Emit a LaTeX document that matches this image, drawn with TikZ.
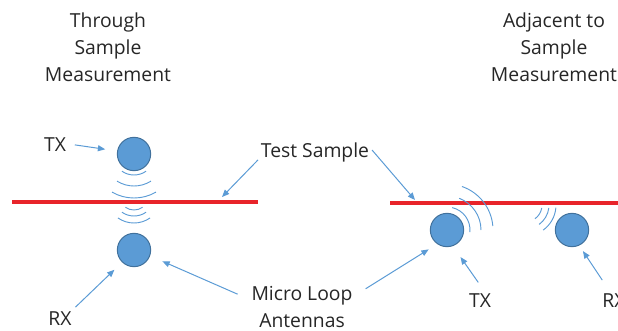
\documentclass[tikz,border=0pt]{standalone}
\usepackage{fontspec}
\setmainfont{Open Sans}
\usepackage{tikz}
\usetikzlibrary{arrows.meta, positioning, calc}

\definecolor{antblue}{HTML}{5B9BD5}
\definecolor{antedge}{HTML}{41719C}
\definecolor{samplered}{HTML}{E8242A}
\definecolor{labelgray}{HTML}{262626}

\begin{document}
\begin{tikzpicture}[
        x=0.75pt, y=0.75pt,
        font=\fontsize{14.5}{20.25}\selectfont,
        antenna/.style = {circle, draw=antedge, fill=antblue, line width=0.75pt, minimum size=25pt, inner sep=0pt},
        title_text/.style = {text=labelgray, align=center, inner sep=2pt},
        callout/.style = {text=labelgray, inner sep=2pt, text height=10.5pt, text depth=0pt},
        callout_two/.style = {text=labelgray, inner sep=2pt, align=center},
        pointer/.style = {draw=antblue, line width=0.75pt, -{Triangle[length=5.5pt, width=4.5pt]}},
        wave/.style = {draw=antblue, line width=0.7pt},
        sample/.style = {draw=samplered, line width=2.5pt}
    ]
    \useasboundingbox (0,0) rectangle (618,330);
    
    % Titles
    \node [title_text] (title_through) at (108,283) {Through\\Sample\\Measurement};
    \node [title_text] (title_adjacent) at (554,283) {Adjacent to\\Sample\\Measurement};
    
    % Test samples
    \draw [sample] (12,128) -- (258,128);
    \draw [sample] (390,127) -- (620,127);
    
    % Antennas
    \node [antenna] (tx_a) at (134,176) {};
    \node [antenna] (rx_a) at (134,80) {};
    \node [antenna] (tx_b) at (447,100) {};
    \node [antenna] (rx_b) at (572,100) {};
    
    % Waves
    \foreach \r/\a/\b in {21/235/305, 32/238/302, 44/240/300}
        \draw [wave] (tx_a.center) ++(\a:\r) arc[start angle=\a, end angle=\b, radius=\r];
    \foreach \r in {15, 21, 28}
        \draw [wave] (134,135) ++(235:\r) arc[start angle=235, end angle=305, radius=\r];
    \foreach \r/\a/\b in {23/-5/77, 34/0/69, 46/5/71}
        \draw [wave] (tx_b.center) ++(\a:\r) arc[start angle=\a, end angle=\b, radius=\r];
    \foreach \r/\b in {17/-10, 24/-7, 31/-5}
        \draw [wave] (525,125) ++(-54:\r) arc[start angle=-54, end angle=\b, radius=\r];
    
    % Labels
    \node [callout] (tx_a_lbl) at (55,186) {TX};
    \node [callout] (rx_a_lbl) at (60,12) {RX};
    \node [callout] (test_lbl) at (315,180) {Test Sample};
    \node [callout_two] (loop_lbl) at (302,23.5) {Micro Loop\\Antennas};
    \node [callout] (tx_b_lbl) at (480,30) {TX};
    \node [callout] (rx_b_lbl) at (614,30) {RX};
    
    \coordinate (hit_a) at (222,133);
    \coordinate (hit_b) at (415,130);
    
    % Edges
    \path [pointer, shorten <=4.5pt, shorten >=9pt] (tx_a_lbl.east) -- (tx_a.170);
    \path [pointer, shorten <=1pt, shorten >=8pt] (rx_a_lbl.north east) -- (rx_a.226);
    \path [pointer] (test_lbl.south west) -- (hit_a);
    \path [pointer] (test_lbl.east) -- (hit_b);
    \path [pointer, shorten <=9pt, shorten >=10pt] (loop_lbl.172) -- (rx_a.-20);
    \path [pointer, shorten <=9pt, shorten >=7.5pt] (loop_lbl.12) -- (tx_b.235);
    \path [pointer, shorten <=7pt, shorten >=10pt] (tx_b_lbl.70) -- (tx_b.-70);
    \path [pointer, shorten <=9pt, shorten >=5pt] (rx_b_lbl.117) -- (rx_b.-65);
    
\end{tikzpicture}
\end{document}
